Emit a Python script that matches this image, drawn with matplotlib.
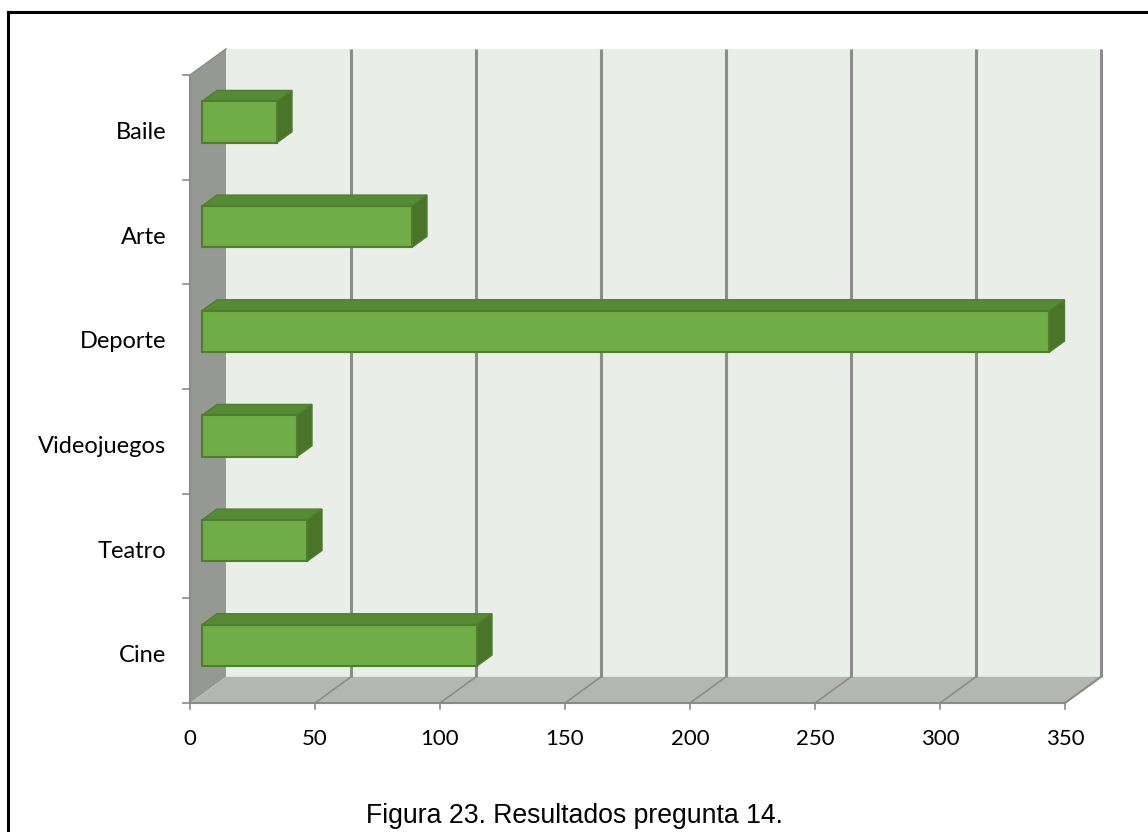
import matplotlib.pyplot as plt
from matplotlib.patches import Polygon, Rectangle

categorias = ['Cine', 'Teatro', 'Videojuegos', 'Deporte', 'Arte', 'Baile']
valores = [110, 42, 38, 339, 84, 30]
ticks_x = [0, 50, 100, 150, 200, 250, 300, 350]
titulo = 'Figura 23. Resultados pregunta 14.'

XMAX = 350
N = len(categorias)
# oblique depth of the 3D box, in data units
DX, DY = 14.4, 0.25
# bar depth span (fraction of box depth) and vertical span inside each band
D0, D1 = 0.33, 0.75
B0, B1 = 0.27, 0.665

VERDE = '#70AD47'
VERDE_SUP = '#568A35'
VERDE_LAT = '#4A7529'
BORDE = '#4E7E2E'

fig = plt.figure(figsize=(11.48, 8.32), dpi=100)
ax = fig.add_axes([190 / 1148, 1 - 703 / 832, 875 / 1148, 628 / 832])
ax.set_xlim(0, XMAX)
ax.set_ylim(0, N)
ax.axis('off')


def poli(pts, color, **kw):
    ax.add_patch(Polygon(pts, closed=True, facecolor=color, clip_on=False, **kw))


# back wall
poli([(DX, DY), (XMAX + DX, DY), (XMAX + DX, N + DY), (DX, N + DY)], '#E9EEE8',
     edgecolor='none', zorder=1)
# left wall
poli([(0, 0), (DX, DY), (DX, N + DY), (0, N)], '#969894', edgecolor='none', zorder=2)
# floor
poli([(0, 0), (XMAX, 0), (XMAX + DX, DY), (DX, DY)], '#B4B7B1', edgecolor='none', zorder=2)

# gridlines on back wall and floor
for v in ticks_x[1:]:
    ax.plot([v + DX, v + DX], [DY, N + DY], color='#8C8C8C', lw=2.2,
            clip_on=False, zorder=3, solid_capstyle='butt')
    ax.plot([v, v + DX], [0, DY], color='#8C8C8C', lw=1.2, clip_on=False, zorder=3)
ax.plot([XMAX, XMAX + DX], [0, DY], color='#8C8C8C', lw=1.4, clip_on=False, zorder=3)

# front edges
ax.plot([0, 0], [0, N], color='#8A8A8A', lw=1.5, clip_on=False, zorder=4)
ax.plot([0, XMAX], [0, 0], color='#8A8A8A', lw=1.5, clip_on=False, zorder=4)
ax.plot([0, DX], [N, N + DY], color='#8A8A8A', lw=1.0, clip_on=False, zorder=4)

# tick marks
for v in ticks_x:
    ax.plot([v, v], [0, -0.06], color='#8A8A8A', lw=1.2, clip_on=False, zorder=4)
for i in range(N + 1):
    ax.plot([-2.8, 0], [i, i], color='#8A8A8A', lw=1.2, clip_on=False, zorder=4)

# 3D bars
for i, v in enumerate(valores):
    x0, x1 = D0 * DX, D0 * DX + v
    y0, y1 = i + B0 + D0 * DY, i + B1 + D0 * DY
    ox, oy = (D1 - D0) * DX, (D1 - D0) * DY
    poli([(x0, y1), (x1, y1), (x1 + ox, y1 + oy), (x0 + ox, y1 + oy)], VERDE_SUP,
         edgecolor=BORDE, lw=1.0, zorder=5)
    poli([(x1, y0), (x1 + ox, y0 + oy), (x1 + ox, y1 + oy), (x1, y1)], VERDE_LAT,
         edgecolor=BORDE, lw=1.0, zorder=5)
    ax.add_patch(Rectangle((x0, y0), v, y1 - y0, facecolor=VERDE, edgecolor=BORDE,
                           lw=1.5, clip_on=False, zorder=6))

# labels
for i, c in enumerate(categorias):
    ax.text(-9.5, i + 0.45, c, ha='right', va='center', fontsize=17,
            family='Lato', color='#000000')
for v in ticks_x:
    ax.text(v, -0.34, str(v), ha='center', va='center', fontsize=16,
            family='Lato', color='#000000')

fig.text(574 / 1148, 1 - 816 / 832, titulo, ha='center', va='center',
         fontsize=19.2, family='Liberation Sans')

# frame
fig.add_artist(plt.Line2D([8 / 1148, 8 / 1148], [0, 1 - 12 / 832], color='black',
                          lw=2.2, transform=fig.transFigure))
fig.add_artist(plt.Line2D([8 / 1148, 1], [1 - 12 / 832, 1 - 12 / 832], color='black',
                          lw=2.2, transform=fig.transFigure))

fig.savefig('out.png', dpi=100)
